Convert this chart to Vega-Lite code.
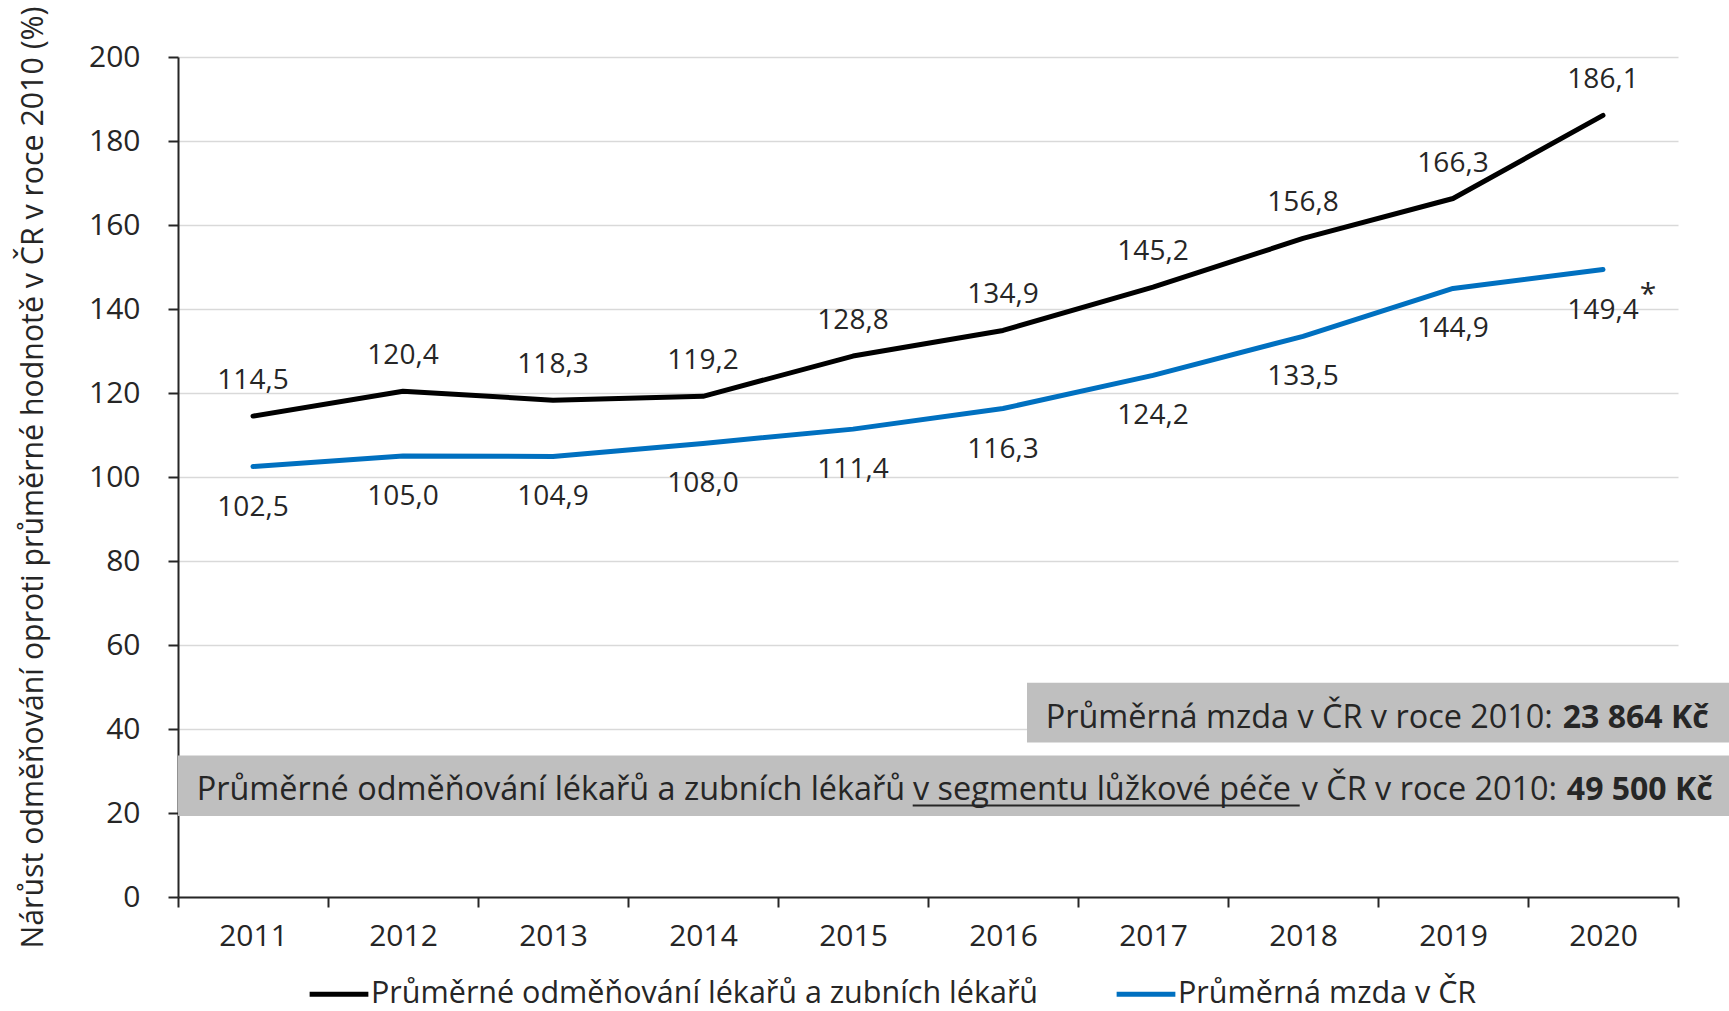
{
  "$schema": "https://vega.github.io/schema/vega-lite/v6.json",
  "width": 1500,
  "height": 840,
  "autosize": {"type": "none"},
  "padding": {"left": 178, "top": 57, "right": 51, "bottom": 114},
  "background": "white",
  "config": {
    "locale": {"number": {"decimal": ",", "thousands": " ", "grouping": [3], "currency": ["", " Kč"]}},
    "view": {"stroke": null},
    "font": "Open Sans",
    "text": {"font": "Open Sans", "color": "#262626"},
    "legend": {
      "orient": "none",
      "legendX": 129,
      "legendY": 905,
      "direction": "horizontal",
      "padding": 0,
      "symbolType": "stroke",
      "symbolStrokeWidth": 5,
      "symbolSize": 3450,
      "labelFont": "Open Sans",
      "labelFontSize": 30.5,
      "labelColor": "#262626",
      "labelLimit": 0,
      "labelOffset": 0,
      "columnPadding": 67,
      "title": null
    }
  },
  "datasets": {
    "main": [
      {"year": "2011", "series": "Průměrné odměňování lékařů a zubních lékařů", "value": 114.5},
      {"year": "2012", "series": "Průměrné odměňování lékařů a zubních lékařů", "value": 120.4},
      {"year": "2013", "series": "Průměrné odměňování lékařů a zubních lékařů", "value": 118.3},
      {"year": "2014", "series": "Průměrné odměňování lékařů a zubních lékařů", "value": 119.2},
      {"year": "2015", "series": "Průměrné odměňování lékařů a zubních lékařů", "value": 128.8},
      {"year": "2016", "series": "Průměrné odměňování lékařů a zubních lékařů", "value": 134.9},
      {"year": "2017", "series": "Průměrné odměňování lékařů a zubních lékařů", "value": 145.2},
      {"year": "2018", "series": "Průměrné odměňování lékařů a zubních lékařů", "value": 156.8},
      {"year": "2019", "series": "Průměrné odměňování lékařů a zubních lékařů", "value": 166.3},
      {"year": "2020", "series": "Průměrné odměňování lékařů a zubních lékařů", "value": 186.1},
      {"year": "2011", "series": "Průměrná mzda v ČR", "value": 102.5},
      {"year": "2012", "series": "Průměrná mzda v ČR", "value": 105.0},
      {"year": "2013", "series": "Průměrná mzda v ČR", "value": 104.9},
      {"year": "2014", "series": "Průměrná mzda v ČR", "value": 108.0},
      {"year": "2015", "series": "Průměrná mzda v ČR", "value": 111.4},
      {"year": "2016", "series": "Průměrná mzda v ČR", "value": 116.3},
      {"year": "2017", "series": "Průměrná mzda v ČR", "value": 124.2},
      {"year": "2018", "series": "Průměrná mzda v ČR", "value": 133.5},
      {"year": "2019", "series": "Průměrná mzda v ČR", "value": 144.9},
      {"year": "2020", "series": "Průměrná mzda v ČR", "value": 149.4}
    ],
    "star": [
      {"year": "2020", "value": 149.4, "note": "*"}
    ],
    "boxes": [
      {"x": 2010.5, "x2": 2020.84, "y": 19.3, "y2": 33.7},
      {"x": 2016.16, "x2": 2020.84, "y": 36.8, "y2": 51.0}
    ],
    "underline": [
      {"x": 2015.398, "x2": 2017.978, "y": 21.8}
    ],
    "notes": [
      {"x": 2010.625, "y": 23.0, "label": "Průměrné odměňování lékařů a zubních lékařů", "kind": "normal"},
      {"x": 2015.40, "y": 23.0, "label": "v segmentu lůžkové péče", "kind": "normal"},
      {"x": 2017.991, "y": 23.0, "label": "v ČR v roce 2010:", "kind": "normal"},
      {"x": 2020.731, "y": 23.0, "label": "49 500 Kč", "kind": "bold"},
      {"x": 2016.285, "y": 40.3, "label": "Průměrná mzda v ČR v roce 2010:", "kind": "normal"},
      {"x": 2020.704, "y": 40.3, "label": "23 864 Kč", "kind": "bold"}
    ]
  },
  "layer": [
    {
      "data": {"name": "main"},
      "encoding": {
        "x": {
          "field": "year",
          "type": "ordinal",
          "scale": {"type": "band", "paddingInner": 0, "paddingOuter": 0},
          "axis": {
            "title": null,
            "tickBand": "extent",
            "grid": false,
            "domainColor": "#262626",
            "domainWidth": 2,
            "tickColor": "#262626",
            "tickWidth": 2,
            "tickSize": 10,
            "labelFont": "Open Sans",
            "labelFontSize": 30,
            "labelColor": "#262626",
            "labelPadding": 14,
            "labelAngle": 0
          }
        },
        "y": {
          "field": "value",
          "type": "quantitative",
          "scale": {"domain": [0, 200], "nice": false},
          "axis": {
            "title": "Nárůst odměňování oproti průměrné hodnotě v ČR v roce 2010 (%)",
            "titleFont": "Open Sans",
            "titleFontSize": 30.3,
            "titleFontWeight": "normal",
            "titleColor": "#262626",
            "titlePadding": 40,
            "values": [0, 20, 40, 60, 80, 100, 120, 140, 160, 180, 200],
            "grid": true,
            "gridColor": "#d9d9d9",
            "gridWidth": 1.5,
            "domainColor": "#262626",
            "domainWidth": 2,
            "tickColor": "#262626",
            "tickWidth": 2,
            "tickSize": 10,
            "labelFont": "Open Sans",
            "labelFontSize": 30,
            "labelColor": "#262626",
            "labelPadding": 28
          }
        }
      },
      "layer": [
        {
          "mark": {"type": "line", "strokeWidth": 5, "strokeCap": "round", "strokeJoin": "round"},
          "encoding": {
            "color": {
              "field": "series",
              "type": "nominal",
              "scale": {
                "domain": ["Průměrné odměňování lékařů a zubních lékařů", "Průměrná mzda v ČR"],
                "range": ["#000000", "#0070C0"]
              },
              "legend": {"symbolStrokeWidth": 5, "symbolType": "stroke", "symbolSize": 3450}
            }
          }
        },
        {
          "transform": [{"filter": "datum.series === 'Průměrné odměňování lékařů a zubních lékařů'"}],
          "mark": {"type": "text", "dy": -35, "fontSize": 28, "baseline": "middle", "align": "center", "color": "#262626"},
          "encoding": {"text": {"field": "value", "type": "quantitative", "format": ".1f"}}
        },
        {
          "transform": [{"filter": "datum.series === 'Průměrná mzda v ČR'"}],
          "mark": {"type": "text", "dy": 41, "fontSize": 28, "baseline": "middle", "align": "center", "color": "#262626"},
          "encoding": {"text": {"field": "value", "type": "quantitative", "format": ".1f"}}
        },
        {
          "data": {"name": "star"},
          "mark": {"type": "text", "dx": 45, "dy": 34, "fontSize": 30, "baseline": "alphabetic", "align": "center", "color": "#262626"},
          "encoding": {"text": {"field": "note", "type": "nominal"}}
        }
      ]
    },
    {
      "layer": [
        {
          "data": {"name": "boxes"},
          "mark": {"type": "rect", "color": "#bfbfbf", "clip": false},
          "encoding": {
            "x": {"field": "x", "type": "quantitative", "scale": {"domain": [2010.5, 2020.5], "nice": false, "zero": false}, "axis": null},
            "x2": {"field": "x2"},
            "y": {"field": "y", "type": "quantitative"},
            "y2": {"field": "y2"}
          }
        },
        {
          "data": {"name": "underline"},
          "mark": {"type": "rule", "color": "#262626", "strokeWidth": 2},
          "encoding": {
            "x": {"field": "x", "type": "quantitative", "axis": null},
            "x2": {"field": "x2"},
            "y": {"field": "y", "type": "quantitative"}
          }
        },
        {
          "data": {"name": "notes"},
          "transform": [{"filter": "datum.kind === 'normal'"}],
          "mark": {"type": "text", "align": "left", "baseline": "alphabetic", "fontSize": 32.4, "color": "#262626"},
          "encoding": {
            "x": {"field": "x", "type": "quantitative", "axis": null},
            "y": {"field": "y", "type": "quantitative"},
            "text": {"field": "label", "type": "nominal"}
          }
        },
        {
          "data": {"name": "notes"},
          "transform": [{"filter": "datum.kind === 'bold'"}],
          "mark": {"type": "text", "align": "right", "baseline": "alphabetic", "fontSize": 32, "fontWeight": "bold", "color": "#262626"},
          "encoding": {
            "x": {"field": "x", "type": "quantitative", "axis": null},
            "y": {"field": "y", "type": "quantitative"},
            "text": {"field": "label", "type": "nominal"}
          }
        }
      ]
    }
  ],
  "resolve": {"scale": {"x": "independent"}, "axis": {"x": "independent"}}
}
